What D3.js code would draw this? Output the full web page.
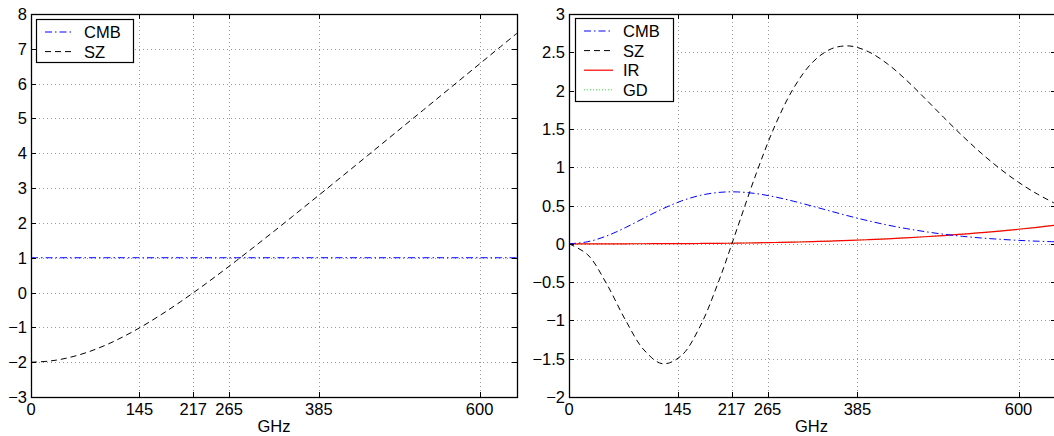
<!DOCTYPE html>
<html><head><meta charset="utf-8">
<script src="https://cdn.jsdelivr.net/npm/d3@7"></script>
<style>
body{margin:0;background:#fff;}
svg{display:block;font-family:"Liberation Sans",Arial,Helvetica,sans-serif;}
</style></head>
<body>
<svg id="chart" width="1054" height="436"></svg>
<script>
// frequencies (GHz)
const freq = [0,25,50,75,100,125,150,175,200,225,250,275,300,325,350,375,400,425,450,475,500,525,550,575,600,625,650];
// left panel (relative to CMB)
const leftCMB = freq.map(() => 1);
const leftSZ = [-2,-1.968,-1.872,-1.717,-1.508,-1.251,-0.953,-0.622,-0.263,0.116,0.512,0.920,1.338,1.761,2.190,2.622,3.057,3.493,3.931,4.370,4.809,5.248,5.688,6.128,6.568,7.008,7.448];
// right panel
const rightCMB = [0,0.027,0.101,0.210,0.335,0.457,0.559,0.632,0.671,0.677,0.655,0.612,0.555,0.491,0.424,0.359,0.299,0.245,0.199,0.159,0.125,0.098,0.076,0.059,0.045,0.034,0.026];
const rightSZ = [0,-0.143,-0.519,-0.989,-1.385,-1.566,-1.460,-1.077,-0.484,0.216,0.920,1.545,2.036,2.369,2.545,2.582,2.506,2.349,2.139,1.899,1.651,1.410,1.185,0.982,0.803,0.650,0.520];
const rightIR = [0,0.00001,0.0001,0.0003,0.0007,0.0015,0.0026,0.0042,0.0063,0.0091,0.0126,0.0169,0.0222,0.0284,0.0357,0.0443,0.0541,0.0652,0.0779,0.0921,0.108,0.1256,0.1451,0.1665,0.19,0.2156,0.2435];
const rightGD = [0,0.00001,0.0001,0.0003,0.0008,0.0016,0.0028,0.0045,0.0066,0.0095,0.0131,0.0175,0.0229,0.0292,0.0366,0.0453,0.0552,0.0665,0.0793,0.0937,0.1098,0.1276,0.1473,0.1690,0.1927,0.2186,0.2468];
// ticks
const xTicks = [0,145,217,265,385,600];
const leftYTicks = [-3,-2,-1,0,1,2,3,4,5,6,7,8];
const rightYTicks = [-2,-1.5,-1,-0.5,0,0.5,1,1.5,2,2.5,3];
const xLabel = "GHz";

const svg = d3.select("#chart");
const fmt = v => { const s = String(v); return s.replace("-", "\u2212"); };
const FS = 16.5;

function panel(cfg){
  const {left,right,top,bottom,ydom,yticks,series,legend,legendBox} = cfg;
  const x = d3.scaleLinear().domain([0,650]).range([left,right]);
  const y = d3.scaleLinear().domain(ydom).range([bottom,top]);
  const g = svg.append("g");
  const clipId = "clip"+left;
  svg.append("clipPath").attr("id",clipId).append("rect")
    .attr("x",left).attr("y",top).attr("width",right-left).attr("height",bottom-top);
  // grid
  const grid = g.append("g").attr("stroke","#999").attr("stroke-width",1).attr("stroke-dasharray","1,3");
  xTicks.filter(t=>t>0).forEach(t=>{
    grid.append("line").attr("x1",Math.round(x(t))+0.5).attr("x2",Math.round(x(t))+0.5).attr("y1",top).attr("y2",bottom);
  });
  yticks.slice(1,-1).forEach(t=>{
    grid.append("line").attr("y1",Math.round(y(t))+0.5).attr("y2",Math.round(y(t))+0.5).attr("x1",left).attr("x2",right);
  });
  // series
  const lg = g.append("g").attr("clip-path",`url(#${clipId})`);
  series.forEach(s=>{
    const line = d3.line().x((d,i)=>x(freq[i])).y(d=>y(d)).curve(d3.curveCatmullRom);
    lg.append("path").datum(s.data).attr("d",line).attr("fill","none")
      .attr("stroke",s.color).attr("stroke-width",s.width||1).attr("stroke-dasharray",s.dash||null);
  });
  // axes (ticks inward on all sides)
  const tl = 5;
  const ax = g.append("g").attr("stroke","#000").attr("stroke-width",1);
  xTicks.forEach(t=>{
    const px = Math.round(x(t))+0.5;
    ax.append("line").attr("x1",px).attr("x2",px).attr("y1",bottom).attr("y2",bottom-tl);
    ax.append("line").attr("x1",px).attr("x2",px).attr("y1",top).attr("y2",top+tl);
  });
  yticks.forEach(t=>{
    const py = Math.round(y(t))+0.5;
    ax.append("line").attr("y1",py).attr("y2",py).attr("x1",left).attr("x2",left+tl);
    ax.append("line").attr("y1",py).attr("y2",py).attr("x1",right).attr("x2",right-tl);
  });
  g.append("rect").attr("x",left+0.5).attr("y",top+0.5).attr("width",right-left).attr("height",bottom-top)
    .attr("fill","none").attr("stroke","#000").attr("stroke-width",1.3);
  // tick labels
  const tx = g.append("g").attr("font-size",FS).attr("fill","#000");
  xTicks.forEach(t=>{
    tx.append("text").attr("x",x(t)).attr("y",bottom+18).attr("text-anchor","middle").text(fmt(t));
  });
  yticks.forEach(t=>{
    tx.append("text").attr("x",left-4).attr("y",y(t)+6).attr("text-anchor","end").text(fmt(t));
  });
  tx.append("text").attr("x",(left+right)/2 + (right>1054? -(right-1054)/2:0)).attr("y",bottom+35).attr("text-anchor","middle").text(xLabel);
  // legend
  const lb = legendBox;
  const leg = g.append("g");
  leg.append("rect").attr("x",lb.x+0.5).attr("y",lb.y+0.5).attr("width",lb.w).attr("height",lb.h)
    .attr("fill","#fff").attr("stroke","#000").attr("stroke-width",1.2);
  legend.forEach((s,i)=>{
    const yy = lb.y + 13 + i*19.6;
    leg.append("line").attr("x1",lb.x+9).attr("x2",lb.x+38).attr("y1",yy).attr("y2",yy)
      .attr("stroke",s.color).attr("stroke-width",s.width||1).attr("stroke-dasharray",s.dash||null);
    leg.append("text").attr("x",lb.x+48).attr("y",yy+6).attr("font-size",FS).text(s.name);
  });
}

const dashDot = "7,3,1.5,3";
const dashed = "6,4";
const gdColor = "#22ee22";
const sCMB_L = {name:"CMB",data:leftCMB,color:"#0000ff",dash:dashDot};
const sSZ_L = {name:"SZ",data:leftSZ,color:"#000",dash:dashed};
panel({left:31,right:517,top:14,bottom:397,ydom:[-3,8],yticks:leftYTicks,
  series:[sSZ_L,sCMB_L],
  legend:[{name:"CMB",color:"#0000ff",dash:dashDot},{name:"SZ",color:"#000",dash:dashed}],
  legendBox:{x:36,y:19,w:97,h:43}});

const sGD = {name:"GD",data:rightGD,color:gdColor,dash:"1,2"};
const sIR = {name:"IR",data:rightIR,color:"#ff0000",width:1.2};
const sCMB_R = {name:"CMB",data:rightCMB,color:"#0000ff",dash:dashDot};
const sSZ_R = {name:"SZ",data:rightSZ,color:"#000",dash:dashed};
panel({left:569,right:1056,top:14,bottom:397,ydom:[-2,3],yticks:rightYTicks,
  series:[sGD,sIR,sCMB_R,sSZ_R],
  legend:[{name:"CMB",color:"#0000ff",dash:dashDot},{name:"SZ",color:"#000",dash:dashed},{name:"IR",color:"#ff0000",width:1.2},{name:"GD",color:gdColor,dash:"1,2"}],
  legendBox:{x:575,y:18,w:98,h:83}});
</script>
</body></html>
